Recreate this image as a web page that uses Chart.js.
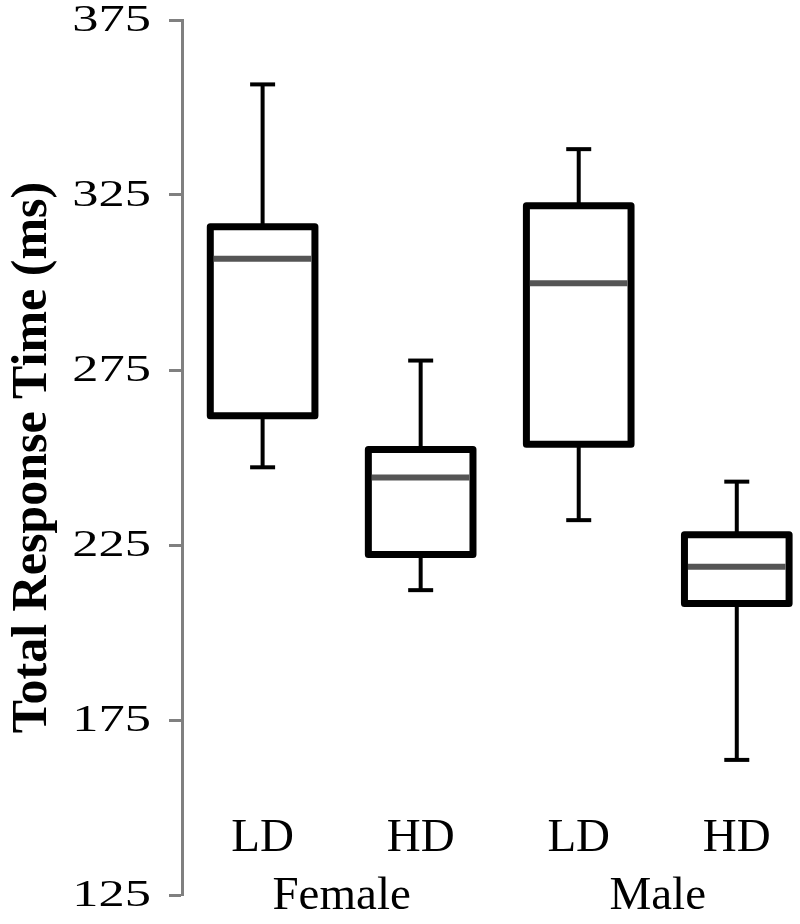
<!DOCTYPE html>
<html>
<head>
<meta charset="utf-8">
<title>Total Response Time</title>
<script src="https://cdn.jsdelivr.net/npm/chart.js@4.4.0/dist/chart.umd.min.js"></script>
<style>
    html, body { margin: 0; padding: 0; background: #fff; }
    .o_chart_wrap { width: 800px; height: 924px; position: relative; }
</style>
</head>
<body>
<div class="o_chart_wrap"><canvas id="myChart"></canvas></div>
<script>
"use strict";

// values (ms)
var groups = ['Female', 'Male'];
var conditions = ['LD', 'HD', 'LD', 'HD'];
var whisker_min = [247.2, 212.1, 232.1, 163.6];
var quartile_1 = [261.9, 222.3, 253.8, 208.3];
var median = [306.8, 244.3, 299.8, 218.8];
var quartile_3 = [315.9, 252.3, 321.9, 227.9];
var whisker_max = [356.6, 277.7, 338.1, 243.1];
var y_ticks = [125, 175, 225, 275, 325, 375];

var serif = '"Liberation Serif", "Times New Roman", serif';

function line(ctx, x1, y1, x2, y2) {
    ctx.beginPath();
    ctx.moveTo(x1, y1);
    ctx.lineTo(x2, y2);
    ctx.stroke();
}

// Draws whiskers, boxes, medians and the category labels from the scales
var boxPlotPlugin = {
    id: 'boxPlot',
    afterDatasetsDraw: function (chart) {
        var ctx = chart.ctx;
        var xs = chart.scales.x;
        var ys = chart.scales.y;
        var area = chart.chartArea;
        ctx.save();
        for (var i = 0; i < conditions.length; i++) {
            var cx = xs.getPixelForValue(i);
            var left = xs.getPixelForValue(i - 0.331);
            var right = xs.getPixelForValue(i + 0.331);
            var yMin = ys.getPixelForValue(whisker_min[i]);
            var yQ1 = ys.getPixelForValue(quartile_1[i]);
            var yMed = ys.getPixelForValue(median[i]);
            var yQ3 = ys.getPixelForValue(quartile_3[i]);
            var yMax = ys.getPixelForValue(whisker_max[i]);

            ctx.strokeStyle = '#000';
            ctx.lineCap = 'butt';
            ctx.lineWidth = 4;
            line(ctx, cx, yMax, cx, yQ3);
            line(ctx, cx, yQ1, cx, yMin);
            line(ctx, cx - 12.5, yMax, cx + 12.5, yMax);
            line(ctx, cx - 12.5, yMin, cx + 12.5, yMin);

            ctx.fillStyle = '#fff';
            ctx.fillRect(left, yQ3, right - left, yQ1 - yQ3);
            ctx.lineWidth = 7;
            ctx.lineJoin = 'round';
            ctx.strokeRect(left, yQ3, right - left, yQ1 - yQ3);

            ctx.strokeStyle = '#555';
            ctx.lineWidth = 6;
            line(ctx, left + 3.5, yMed, right - 3.5, yMed);
        }

        ctx.fillStyle = '#000';
        ctx.font = '47px ' + serif;
        ctx.textAlign = 'center';
        ctx.textBaseline = 'alphabetic';
        for (var j = 0; j < conditions.length; j++) {
            ctx.fillText(conditions[j], xs.getPixelForValue(j), area.bottom - 44);
        }
        for (var g = 0; g < groups.length; g++) {
            var gx = (xs.getPixelForValue(g * 2) + xs.getPixelForValue(g * 2 + 1)) / 2;
            ctx.fillText(groups[g], gx, area.bottom + 14);
        }

        // y tick labels are wide in the original, so stretch them a bit
        ctx.font = '38px ' + serif;
        ctx.textAlign = 'right';
        ctx.textBaseline = 'middle';
        ys.ticks.forEach(function (tick) {
            ctx.save();
            ctx.translate(ys.right - 31, ys.getPixelForValue(tick.value));
            ctx.scale(1.38, 1);
            ctx.fillText(String(tick.value), 0, 1);
            ctx.restore();
        });
        ctx.restore();
    }
};

var ctx = document.getElementById('myChart');
var myChart = new Chart(ctx, {
    type: 'scatter',
    data: {
        datasets: [{
            label: 'Total Response Time',
            data: [],
            pointRadius: 0
        }]
    },
    plugins: [boxPlotPlugin],
    options: {
        responsive: true,
        maintainAspectRatio: false,
        animation: false,
        layout: {
            padding: { top: 20, bottom: 29, left: 0, right: 0 }
        },
        plugins: {
            legend: { display: false },
            tooltip: { enabled: false }
        },
        scales: {
            x: {
                type: 'linear',
                display: false,
                min: -0.51,
                max: 3.4
            },
            y: {
                type: 'linear',
                min: y_ticks[0],
                max: y_ticks[y_ticks.length - 1],
                afterBuildTicks: function (scale) {
                    scale.ticks = y_ticks.map(function (v) { return { value: v }; });
                },
                afterFit: function (scale) {
                    scale.width = 182;
                    scale.paddingTop = 0;
                    scale.paddingBottom = 0;
                },
                ticks: {
                    display: false
                },
                grid: {
                    drawOnChartArea: false,
                    drawTicks: true,
                    tickLength: 13,
                    tickWidth: 3,
                    tickColor: '#808080'
                },
                border: { display: true, color: '#808080', width: 3 },
                title: {
                    display: true,
                    text: 'Total Response Time (ms)',
                    color: '#000',
                    padding: { top: 3, bottom: 0 },
                    font: { family: serif, size: 50, weight: 'bold' }
                }
            }
        }
    }
});
</script>
</body>
</html>
